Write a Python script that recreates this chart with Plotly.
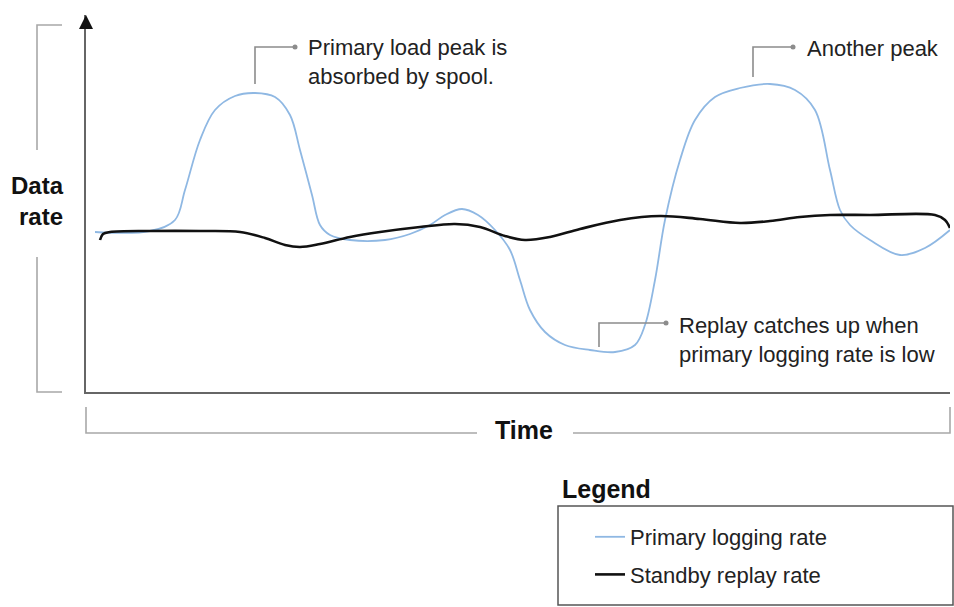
import plotly.graph_objects as go

# ---- data (time units, rate units) ----
primary_t = [9, 64, 89, 99, 114, 129, 149, 169, 189, 204, 214, 226, 234, 244, 264, 299, 324, 344, 359, 376,
             392, 409, 424, 434, 444, 459, 479, 504, 529, 549, 559, 569, 579, 594, 609, 629, 654, 684, 709,
             729, 744, 754, 764, 784, 814, 839, 864]
primary_rate = [160, 161, 172, 202, 252, 282, 296, 299, 295, 277, 242, 197, 167, 157, 152, 152, 158, 167, 177, 183,
                177, 162, 142, 112, 82, 60, 47, 42, 40, 47, 67, 112, 172, 232, 272, 295, 304, 308, 302,
                282, 222, 182, 167, 152, 137, 144, 162]

standby_t = [14, 17, 24, 64, 114, 154, 179, 199, 214, 234, 264, 294, 334, 369, 394, 419, 439, 464, 494, 534,
             574, 614, 654, 684, 714, 744, 784, 849, 859, 864]
standby_rate = [152, 158, 160, 161, 161, 160, 154, 147, 145, 148, 155, 160, 165, 168, 165, 156, 152, 155, 163, 172,
                176, 173, 169, 171, 175, 177, 177, 177, 172, 164]

series_names = ["Primary logging rate", "Standby replay rate"]

W, H = 954, 607
L, R, T, B = 86, 4, 15, 215
PW, PH = W - L - R, H - T - B


def px(xp):
    return (xp - L) / PW


def py(yp):
    return (H - B - yp) / PH


FONT = "Liberation Sans, Arial, sans-serif"
GRAY = "#8c8c8c"
TXT = "#222222"

fig = go.Figure()
fig.add_trace(go.Scatter(x=primary_t, y=primary_rate, mode="lines", name=series_names[0],
                         line=dict(color="#8fb8e3", width=1.8, shape="spline", smoothing=1.0),
                         legendgroup="a", hoverinfo="skip"))
fig.add_trace(go.Scatter(x=standby_t, y=standby_rate, mode="lines", name=series_names[1],
                         line=dict(color="#111111", width=2.6, shape="spline", smoothing=1.0),
                         legendgroup="b", hoverinfo="skip"))

# callout connectors (decoration)
connectors = [
    ([169, 169, 209], [308, 345, 345]),
    ([667, 667, 707], [315, 345, 345]),
    ([513, 513, 580], [45, 69, 69]),
]
for cx, cy in connectors:
    fig.add_trace(go.Scatter(x=cx, y=cy, mode="lines", line=dict(color=GRAY, width=1.6),
                             showlegend=False, hoverinfo="skip", cliponaxis=False))
    fig.add_trace(go.Scatter(x=[cx[-1]], y=[cy[-1]], mode="markers", marker=dict(color=GRAY, size=5),
                             showlegend=False, hoverinfo="skip", cliponaxis=False))

callouts = [
    (220, 330, "Primary load peak is<br>absorbed by spool."),
    (719, 344, "Another peak"),
    (591, 52.5, "Replay catches up when<br>primary logging rate is low"),
]
annotations = []
for ax_, ay_, txt in callouts:
    annotations.append(dict(x=ax_, y=ay_, xref="x", yref="y", text=txt, showarrow=False,
                            xanchor="left", yanchor="middle", align="left",
                            font=dict(family=FONT, size=22, color=TXT)))

# y-axis arrowhead
annotations.append(dict(x=0, y=1, xref="paper", yref="paper", ax=0, ay=14, axref="pixel", ayref="pixel",
                        text="", showarrow=True, arrowhead=2, arrowsize=1.4, arrowwidth=2,
                        arrowcolor="#111111", standoff=0))
# axis titles
annotations.append(dict(x=px(66), y=py(201), xref="paper", yref="paper", text="<b>Data<br>rate</b>",
                        showarrow=False, xanchor="right", yanchor="middle", align="right",
                        font=dict(family=FONT, size=24, color="#111111")))
annotations.append(dict(x=px(524), y=py(430), xref="paper", yref="paper", text="<b>Time</b>",
                        showarrow=False, xanchor="center", yanchor="middle",
                        font=dict(family="Liberation Sans Narrow, Arial Narrow, Liberation Sans, sans-serif",
                                  size=25, color="#111111")))
annotations.append(dict(x=px(560), y=py(489), xref="paper", yref="paper", text="<b>Legend</b>",
                        showarrow=False, xanchor="left", yanchor="middle",
                        font=dict(family=FONT, size=25, color="#111111")))

BR = "#a8a8a8"
shapes = [
    # y bracket
    dict(type="path", xref="paper", yref="paper",
         path=f"M {px(62)},{py(25)} L {px(37)},{py(25)} L {px(37)},{py(150)}",
         line=dict(color=BR, width=1.6)),
    dict(type="path", xref="paper", yref="paper",
         path=f"M {px(37)},{py(257)} L {px(37)},{py(392)} L {px(62)},{py(392)}",
         line=dict(color=BR, width=1.6)),
    # x bracket
    dict(type="path", xref="paper", yref="paper",
         path=f"M {px(86)},{py(407)} L {px(86)},{py(433)} L {px(477)},{py(433)}",
         line=dict(color=BR, width=1.6)),
    dict(type="path", xref="paper", yref="paper",
         path=f"M {px(573)},{py(433)} L {px(950)},{py(433)} L {px(950)},{py(407)}",
         line=dict(color=BR, width=1.6)),
    # legend box
    dict(type="rect", xref="paper", yref="paper", x0=px(558), x1=px(953), y0=py(605), y1=py(506),
         line=dict(color="#555555", width=1.5)),
]

fig.update_layout(
    width=W, height=H,
    margin=dict(l=L, r=R, t=T, b=B),
    paper_bgcolor="white", plot_bgcolor="white",
    xaxis=dict(range=[0, PW], showgrid=False, zeroline=False, showticklabels=False, ticks="",
               showline=True, linecolor="#666666", linewidth=2, fixedrange=True),
    yaxis=dict(range=[0, PH], showgrid=False, zeroline=False, showticklabels=False, ticks="",
               showline=True, linecolor="#666666", linewidth=2, fixedrange=True),
    showlegend=True,
    legend=dict(x=px(590), y=py(516), xanchor="left", yanchor="top", traceorder="grouped",
                tracegroupgap=6, bgcolor="rgba(0,0,0,0)", borderwidth=0,
                font=dict(family=FONT, size=22, color=TXT)),
    annotations=annotations,
    shapes=shapes,
)

fig.write_html("out.html", config={"displayModeBar": False},
               post_script="document.body.style.margin='0';document.body.style.overflow='hidden';")
